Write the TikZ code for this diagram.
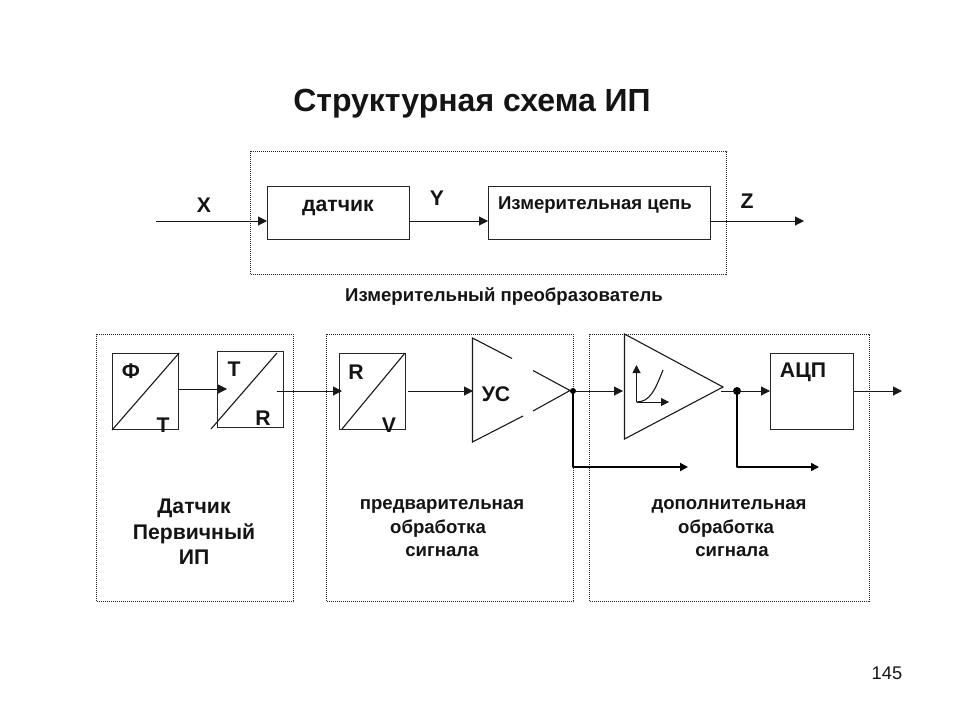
\documentclass[tikz,border=0pt]{standalone}
\usepackage{fontspec}
\setmainfont{Liberation Sans}
\usetikzlibrary{arrows.meta}
\tikzset{
  lbl/.style={font=\bfseries\fontsize{#1}{#1}\selectfont,inner sep=0pt,text=black!92},
  multi/.style={align=center,font=\bfseries\fontsize{#1}{25.5}\selectfont,inner sep=0pt,text=black!92},
  blockbox/.style={draw=black!85,line width=1.1pt,inner sep=0pt,fill=white},
  framebox/.style={draw=black!85,line width=1.3pt,dash pattern=on 1pt off 1pt,inner sep=0pt},
  conn/.style={draw=black!90,line width=1pt,-{Triangle[length=9pt,width=9pt]}},
  thick conn/.style={draw=black,line width=2pt,-{Triangle[length=8pt,width=8pt]}},
  plain/.style={draw=black!90,line width=1.1pt},
  junction/.style={circle,fill=black,inner sep=0pt,minimum size=#1},
}
\newcommand{\boxat}[6]{% name, style, x1, y1, x2, y2
  \node[#2,anchor=north west,minimum width=#5pt-#3pt,minimum height=#6pt-#4pt] (#1) at (#3,#4) {};}
\begin{document}
\begin{tikzpicture}[x=1pt,y=-1pt]
\useasboundingbox (0,0) rectangle (960,720);
% frames
\boxat{top}{framebox}{250}{151}{726}{274}
\boxat{frA}{framebox}{96}{334}{293}{601}
\boxat{frB}{framebox}{326}{334}{573}{601}
\boxat{frC}{framebox}{589}{334}{869}{601}
% top row
\boxat{sensor}{blockbox}{267}{186}{409}{239}
\boxat{chain}{blockbox}{488}{186}{710}{239}
\coordinate (xin) at (156,221);
\coordinate (zout) at (804,221);
\draw[conn] (xin) -- (sensor.west |- xin);
\draw[conn] (sensor.east |- xin) -- (chain.west |- xin);
\draw[conn] (chain.east |- xin) -- (zout);
% converters
\boxat{ft}{blockbox}{112}{353}{178}{429}
\boxat{tr}{blockbox}{217}{351}{283}{427}
\boxat{rv}{blockbox}{339}{353}{405}{429}
\boxat{adc}{blockbox}{770}{353}{853}{429}
\draw[plain] (ft.south west) -- (ft.north east);
\coordinate (trA) at (211,429); \coordinate (trB) at (277,353);
\draw[plain] (trA) -- (trB);
\coordinate (rvA) at (342,429); \coordinate (rvB) at (405,353);
\draw[plain] (rvA) -- (rvB);
\coordinate (ftOut) at (178,389); \coordinate (trIn) at (227,389);
\draw[conn] (ftOut) -- (trIn);
\coordinate (trOut) at (277,391); \coordinate (rvIn) at (342,391);
\draw[conn] (trOut) -- (rvIn);
% amplifier US
\coordinate (usT) at (472.5,338); \coordinate (usB) at (472.5,442); \coordinate (usA) at (570,390.5);
\coordinate (usG1) at (512,358.5); \coordinate (usG2) at (533,370.5);
\coordinate (usG3) at (533,411); \coordinate (usG4) at (523,416);
\draw[plain] (usG1) -- (usT) -- (usB) -- (usG4);
\draw[plain] (usG2) -- (usA) -- (usG3);
\coordinate (rvOut) at (408,391); \coordinate (usIn) at (473,391);
\draw[conn] (rvOut) -- (usIn);
\node[junction=6pt] (j1) at (573,391) {};
% nonlinear amplifier
\coordinate (nlT) at (624.5,334); \coordinate (nlB) at (624.5,439); \coordinate (nlA) at (723,387);
\draw[plain] (nlT) -- (nlB) -- (nlA) -- cycle;
\coordinate (ax0) at (636.5,402); \coordinate (axY) at (636.5,365); \coordinate (axX) at (669,402);
\coordinate (crv) at (663,370);
\draw[conn,-{Triangle[length=8pt,width=8pt]}] (ax0) -- (axY);
\draw[conn,-{Triangle[length=8pt,width=8pt]}] (ax0) -- (axX);
\draw[plain] (ax0) .. controls (650,402) and (655,390) .. (crv);
\coordinate (nlIn) at (623,391);
\draw[conn] (j1) -- (nlIn);
\coordinate (nlOut) at (721,391);
\node[junction=8pt] (j2) at (737,391) {};
\draw[conn] (nlOut) -- (adc.west |- nlOut);
\coordinate (adcOut) at (902,391);
\draw[conn] (adc.east |- adcOut) -- (adcOut);
\coordinate (br1) at (688,467); \coordinate (br2) at (819,467);
\draw[thick conn,line join=round] (j1.center) -- (j1.center |- br1) -- (br1);
\draw[thick conn,line width=1.6pt,line join=round] (j2.center) -- (j2.center |- br2) -- (br2);
% texts
\node[lbl=32] (title) at (472,104) {Структурная схема ИП};
\node[lbl=21.2] (lx) at (204,205) {X};
\node[lbl=21.2] (ld) at (338,208) {датчик};
\node[lbl=21.2] (ly) at (437,198) {Y};
\node[lbl=18.6] (lc) at (595,205) {Измерительная цепь};
\node[lbl=21.2] (lz) at (747,201) {Z};
\node[lbl=18.6] (lp) at (504,297) {Измерительный преобразователь};
\node[lbl=21.2] (l1) at (131,371) {Ф};
\node[lbl=21.2] (l2) at (163,425) {Т};
\node[lbl=21.2] (l3) at (234,369) {Т};
\node[lbl=21.2] (l4) at (263,418) {R};
\node[lbl=21.2] (l5) at (356,372) {R};
\node[lbl=21.2] (l6) at (389,425) {V};
\node[lbl=21.2] (l7) at (496,394) {УС};
\node[lbl=21.2] (l8) at (803,372) {АЦП};
\node[multi=21.2] (m1) at (194,532) {Датчик\\Первичный\\ИП};
\node[lbl=18.6] (m2a) at (442,506) {предварительная};
\node[lbl=18.6] (m2b) at (438,529) {обработка};
\node[lbl=18.6] (m2c) at (442,552) {сигнала};
\node[lbl=18.6] (m3a) at (729,506) {дополнительная};
\node[lbl=18.6] (m3b) at (726,529) {обработка};
\node[lbl=18.6] (m3c) at (732,552) {сигнала};
\node[font=\fontsize{18.3}{18.3}\selectfont,inner sep=0pt,text=black!92] (pg) at (887,673) {145};
\end{tikzpicture}
\end{document}
